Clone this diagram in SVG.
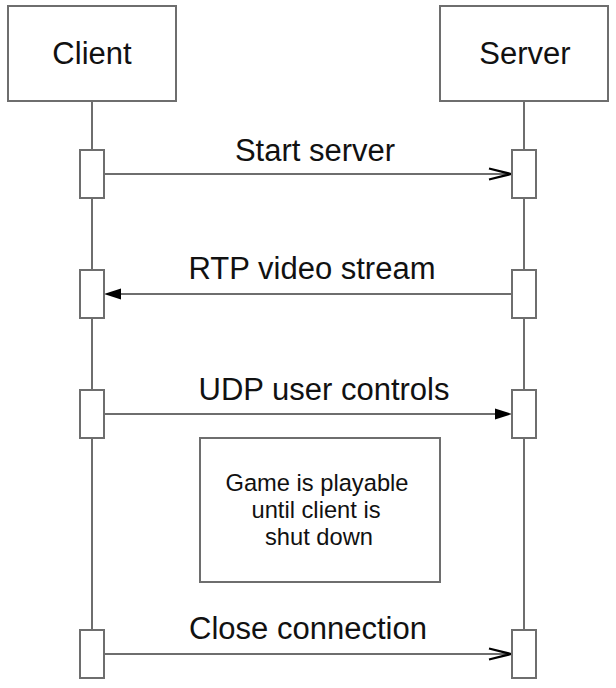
<svg xmlns="http://www.w3.org/2000/svg" width="616" height="688" viewBox="0 0 616 688">
<style>
.box{fill:#fff;stroke:#6e6e6e;stroke-width:2}
.life{stroke:#6e6e6e;stroke-width:2;fill:none}
.msg{stroke:#6e6e6e;stroke-width:2;fill:none}
.t{font-family:"Liberation Sans",Arial,sans-serif;fill:#111;text-anchor:middle}
.big{font-size:31px}
.small{font-size:23.7px}
.open{fill:none;stroke:#000;stroke-width:2.2}
.fill{fill:#000;stroke:none}
</style>
<rect width="616" height="688" fill="#fff"/>
<g id="connectors">
<line class="life" x1="92" y1="101" x2="92" y2="630"/>
<line class="life" x1="524" y1="101" x2="524" y2="630"/>
<line class="msg" x1="104" y1="174" x2="510" y2="174"/>
<polyline class="open" points="489,168.5 511,174 489,179.5"/>
<line class="msg" x1="512" y1="294" x2="118" y2="294"/>
<polygon class="fill" points="104,294 121,288.5 121,299.5"/>
<line class="msg" x1="104" y1="414" x2="498" y2="414"/>
<polygon class="fill" points="512,414 495,408.5 495,419.5"/>
<line class="msg" x1="104" y1="654" x2="510" y2="654"/>
<polyline class="open" points="489,648.5 511,654 489,659.5"/>
</g>
<g id="client">
<rect class="box" x="8" y="6" width="168" height="95"/>
<text class="t big" x="92" y="64">Client</text>
</g>
<g id="server">
<rect class="box" x="440" y="6" width="168" height="95"/>
<text class="t big" x="525" y="64">Server</text>
</g>
<g id="client-act">
<rect class="box" x="80" y="150" width="24" height="48"/>
<rect class="box" x="80" y="270" width="24" height="48"/>
<rect class="box" x="80" y="390" width="24" height="48"/>
<rect class="box" x="80" y="630" width="24" height="48"/>
</g>
<g id="server-act">
<rect class="box" x="512" y="150" width="24" height="48"/>
<rect class="box" x="512" y="270" width="24" height="48"/>
<rect class="box" x="512" y="390" width="24" height="48"/>
<rect class="box" x="512" y="630" width="24" height="48"/>
</g>
<g id="labels">
<text class="t big" x="315" y="161">Start server</text>
<text class="t big" x="312" y="279">RTP video stream</text>
<text class="t big" x="324" y="400">UDP user controls</text>
<text class="t big" x="308" y="639">Close connection</text>
</g>
<g id="note">
<rect class="box" x="200" y="438" width="240" height="144"/>
<text class="t small" x="317" y="491">Game is playable</text>
<text class="t small" x="316" y="518">until client is</text>
<text class="t small" x="319" y="545">shut down</text>
</g>
</svg>
